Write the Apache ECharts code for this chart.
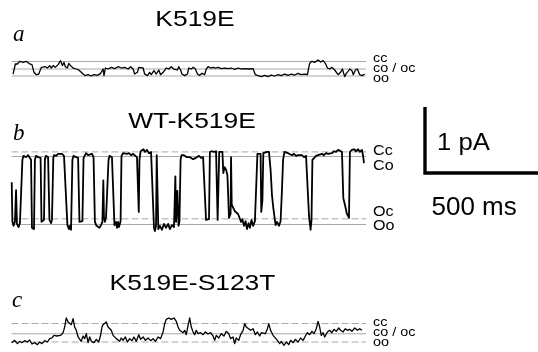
<!DOCTYPE html>
<html>
<head>
<meta charset="utf-8">
<script src="https://cdn.jsdelivr.net/npm/echarts@6/dist/echarts.min.js"></script>
<style>
  html, body { margin: 0; padding: 0; background: #fff; }
  #chart { width: 538px; height: 352px; }
</style>
</head>
<body>
<div id="chart"></div>
<script>
// single-channel traces, time in ms, current in pA (baseline = lowest level)
const traceA = [
  [7,0.030],[17,0.182],[21,0.192],[26,0.182],[36,0.222],[51,0.207],[65,0.222],[80,0.182],[90,0.172],[99,0.056],
  [109,0.020],[120,0.030],[131,0.131],[139,0.106],[149,0.141],[158,0.121],[168,0.157],[175,0.121],[183,0.157],[193,0.131],
  [205,0.172],[216,0.232],[224,0.157],[231,0.207],[237,0.141],[246,0.121],[252,0.192],[260,0.157],[271,0.121],[285,0.106],
  [296,0.091],[304,0.106],[315,0.030],[325,0.005],[337,0.020],[351,0.000],[363,0.020],[378,0.010],[392,0.040],[403,0.106],
  [407,0.005],[413,0.121],[425,0.106],[439,0.131],[454,0.111],[469,0.141],[483,0.121],[498,0.131],[513,0.106],[524,0.141],
  [535,0.106],[542,0.030],[554,0.056],[560,0.131],[568,0.106],[579,0.121],[586,0.030],[598,0.005],[608,0.056],[615,0.020],
  [627,0.081],[637,0.030],[648,0.091],[656,0.020],[667,0.056],[674,0.030],[681,0.121],[692,0.106],[703,0.141],[714,0.106],
  [722,0.131],[730,0.091],[736,0.141],[744,0.091],[750,0.030],[762,0.005],[774,0.030],[780,0.121],[791,0.106],[800,0.131],
  [809,0.106],[818,0.030],[828,0.010],[838,0.040],[850,0.020],[857,0.106],[865,0.141],[876,0.121],[887,0.131],[897,0.121],
  [909,0.131],[923,0.111],[938,0.121],[953,0.111],[967,0.121],[982,0.101],[997,0.121],[1011,0.106],[1029,0.111],[1044,0.106],
  [1063,0.111],[1073,0.020],[1085,0.005],[1099,-0.010],[1114,0.010],[1129,-0.010],[1143,0.015],[1158,0.000],[1173,0.020],[1187,0.005],
  [1202,0.030],[1217,0.010],[1231,0.030],[1246,0.015],[1261,0.040],[1275,0.020],[1290,0.030],[1302,0.020],[1308,0.131],[1312,0.192],
  [1322,0.222],[1334,0.207],[1349,0.242],[1360,0.212],[1371,0.232],[1381,0.192],[1390,0.121],[1400,0.106],[1410,0.131],[1422,0.091],
  [1429,0.081],[1437,0.020],[1448,0.056],[1456,0.106],[1466,-0.010],[1473,0.040],[1481,0.071],[1488,0.106],[1498,0.081],[1504,0.020],
  [1513,0.091],[1522,0.106],[1532,0.020],[1542,0.005],[1554,0.030]
];

const traceB = [
  [1,0.64],[4,0.04],[9,-0.02],[15,0.04],[20,0.52],[24,0.01],[31,-0.04],[37,0.02],[44,-0.01],
  [48,0.98],[53,1.04],[64,1.02],[73,1.05],[81,1.02],[86,0.98],
  [90,-0.05],[95,-0.08],[99,-0.07],
  [103,0.98],[108,1.04],[117,1.02],[123,1.05],[128,1.01],
  [132,0.04],[139,0.01],[143,0.07],
  [147,0.99],[152,1.04],[161,1.02],
  [167,0.07],[174,0.02],[178,0.07],
  [184,1.01],[187,1.05],[196,1.04],[205,1.07],[213,1.04],[222,1.07],[231,1.04],[238,1.02],
  [246,-0.01],[253,-0.07],[257,-0.02],[262,-0.08],
  [268,0.98],[273,1.04],[284,1.02],[293,1.01],
  [299,0.04],[306,0.01],[312,0.05],
  [317,1.01],[321,1.04],[328,1.08],[337,1.05],[345,1.04],[354,1.07],[361,1.02],
  [367,0.04],[374,-0.02],[381,0.01],[387,-0.05],[394,-0.01],
  [400,0.04],[404,0.67],[407,0.10],[411,0.04],[416,0.11],[422,0.08],
  [427,0.98],[431,1.04],[442,1.02],[449,0.99],
  [453,-0.01],[460,0.04],[464,-0.05],[469,0.04],[473,-0.04],[480,0.05],
  [484,1.04],[491,1.08],[499,1.10],[508,1.07],[517,1.08],[526,1.05],[535,1.07],[543,1.04],[552,1.02],[557,1.01],
  [560,0.19],[563,0.98],[568,1.11],[574,1.10],[581,1.14],[587,1.10],[596,1.13],[605,1.08],[614,1.10],[621,1.08],
  [627,-0.05],[631,-0.10],[636,-0.02],[639,1.05],[642,1.04],[646,-0.07],
  [653,-0.02],[662,-0.08],[671,0.01],[680,-0.05],[689,0.01],[697,-0.07],[706,-0.01],[715,-0.04],[721,0.73],[724,0.04],[730,0.51],[735,-0.02],[739,0.04],
  [744,0.98],[748,1.05],[759,1.05],[772,1.02],[785,1.02],[799,0.99],[812,1.01],[825,1.04],[834,1.01],[843,1.02],[851,1.04],
  [856,0.07],[862,0.04],[869,0.08],
  [873,1.10],[882,1.11],[891,1.10],[900,1.11],
  [907,0.07],[911,0.04],
  [914,1.10],[922,1.11],[928,1.10],
  [932,0.78],[937,0.87],[944,0.83],[950,0.75],
  [957,0.10],[964,0.16],[966,1.02],[969,0.30],[975,0.27],[983,0.20],[990,0.22],[997,0.16],[1003,0.19],[1010,0.04],[1016,0.08],
  [1023,-0.02],[1030,0.05],[1036,-0.07],[1043,0.02],[1049,-0.05],[1056,0.07],[1063,-0.02],[1071,0.05],[1077,0.07],
  [1082,1.07],[1089,1.10],[1096,1.07],
  [1099,0.19],[1104,0.37],[1108,1.08],[1115,1.11],[1124,1.10],[1133,1.10],
  [1140,0.83],[1146,0.45],[1153,0.22],[1162,-0.01],[1168,0.04],[1177,-0.02],[1184,0.05],
  [1190,0.52],[1195,0.98],[1201,1.10],[1208,1.11],[1217,1.08],[1225,1.11],[1234,1.05],[1243,1.07],[1252,1.04],[1261,1.05],
  [1269,1.04],[1278,1.05],[1287,1.02],[1296,1.04],[1302,1.02],
  [1309,0.13],[1316,-0.08],[1320,0.07],[1324,0.98],[1331,1.01],[1340,1.04],[1349,1.05],[1357,1.02],[1366,1.07],[1375,1.05],
  [1384,1.08],[1393,1.07],[1401,1.10],[1410,1.08],[1419,1.11],[1428,1.10],[1437,1.13],[1445,1.11],[1454,1.10],
  [1460,0.40],[1467,0.30],[1476,0.16],[1485,0.10],
  [1489,1.10],[1498,1.13],[1507,1.14],[1516,1.11],[1525,1.14],[1533,1.10],[1542,1.13],[1547,1.04],[1551,0.93]
];

const traceC = [
  [0,-0.010],[14,0.025],[26,-0.025],[36,0.010],[46,-0.010],[58,0.020],[70,0],[80,0.030],[90,-0.030],[102,-0.010],
  [114,-0.040],[124,0],[134,-0.025],[146,0.020],[158,0],[168,0.051],[178,0.061],[187,0.101],[197,0.091],[205,0.121],
  [216,0.101],[227,0.141],[234,0.227],[241,0.364],[249,0.303],[256,0.328],[263,0.263],[271,0.354],[278,0.227],[285,0.177],
  [293,0.076],[300,0.101],[307,0.010],[315,0.091],[322,0.051],[329,0.126],[337,-0.010],[344,0.076],[351,0.010],[363,-0.010],
  [373,0.040],[384,0],[392,0.101],[398,0.227],[403,0.263],[410,0.242],[417,0.303],[425,0.227],[432,0.253],[439,0.177],
  [447,0.101],[454,0.126],[461,0.051],[469,0.076],[476,0.010],[483,0.061],[491,0.025],[501,0.076],[510,0],[520,0.051],
  [530,0.020],[539,0.076],[549,0.010],[560,0.111],[568,0.040],[579,0.076],[589,0.025],[601,0.061],[612,0.020],[623,0.051],
  [633,0.010],[645,0.076],[656,0.051],[667,0.152],[674,0.278],[681,0.343],[692,0.364],[703,0.343],[715,0.364],[725,0.313],
  [733,0.227],[740,0.177],[747,0.202],[755,0.141],[762,0.177],[769,0.111],[777,0.253],[784,0.364],[791,0.227],[799,0.152],
  [806,0.111],[813,0.177],[821,0.126],[832,0.141],[843,0.111],[853,0.152],[865,0.121],[876,0.141],[887,0.091],[894,0.025],
  [901,0.101],[912,0.061],[923,0.126],[935,0.091],[945,0.162],[956,0.126],[964,0.051],[975,0.076],[982,-0.025],[989,0.061],
  [1000,0.025],[1008,0.111],[1019,0.177],[1026,0.278],[1033,0.227],[1041,0.253],[1052,0.177],[1063,0.202],[1073,0.111],[1082,0.152],
  [1092,0.091],[1099,0.141],[1107,0.162],[1117,0.126],[1126,0.202],[1132,0.278],[1140,0.177],[1151,0.101],[1158,0.111],[1170,0.025],
  [1180,-0.025],[1187,0.010],[1199,-0.051],[1209,0],[1220,-0.040],[1228,0.025],[1239,-0.010],[1249,0.040],[1261,0],[1272,0.061],
  [1283,0.025],[1293,0.091],[1302,0.141],[1312,0.111],[1322,0.162],[1331,0.126],[1341,0.202],[1349,0.313],[1356,0.227],[1363,0.101],
  [1371,0.141],[1378,0.076],[1390,0.152],[1400,0.177],[1410,0.141],[1419,0.192],[1429,0.162],[1440,0.212],[1448,0.177],[1459,0.152],
  [1469,0.202],[1478,0.177],[1488,0.192],[1498,0.162],[1510,0.212],[1522,0.177],[1532,0.202],[1542,0.177]
];

// conductance levels (pA) and their labels
const levelsA = [0.22, 0.106, 0];
const levelLabelsA = ['cc', 'co / oc', 'oo'];
const levelsB = [1.10, 1.03, 0.086, 0];
const levelLabelsB = ['Cc', 'Co', 'Oc', 'Oo'];
const levelsC = [0.28, 0.125, 0];
const levelLabelsC = ['cc', 'co / oc', 'oo'];
const levelSpan = [0, 1560];

const titles = ['K519E', 'WT-K519E', 'K519E-S123T'];
const panelLetters = ['a', 'b', 'c'];

// scale bar: 1 pA, 500 ms
const scaleBar = [[0, 1], [0, 0], [500, 0]];
const scaleLabels = ['1 pA', '500 ms'];

// layout
const PX_PER_PA = 66;
const PX_PER_MS = 1 / 4.4;
const T_MAX = 1580;
const LEFT = 11.5;
const panels = [
  { top: 48, height: 44, zero: 76, trace: traceA, levels: levelsA, dashed: [false, false, false], width: 1.3 },
  { top: 138, height: 102, zero: 224.5, trace: traceB, levels: levelsB, dashed: [true, false, true, false], width: 1.8 },
  { top: 305, height: 45, zero: 342, trace: traceC, levels: levelsC, dashed: [true, false, true], width: 1.3 }
];

const grids = [];
const xAxes = [];
const yAxes = [];
const series = [];

panels.forEach((p, i) => {
  grids.push({ left: LEFT, top: p.top, width: T_MAX * PX_PER_MS, height: p.height });
  xAxes.push({ type: 'value', gridIndex: i, min: 0, max: T_MAX, show: false });
  yAxes.push({
    type: 'value', gridIndex: i, show: false,
    min: -(p.top + p.height - p.zero) / PX_PER_PA,
    max: (p.zero - p.top) / PX_PER_PA
  });
  p.levels.forEach((lv, k) => {
    series.push({
      type: 'line', xAxisIndex: i, yAxisIndex: i, symbol: 'none', silent: true,
      data: levelSpan.map(t => [t, lv]),
      lineStyle: { color: '#a8a8a8', width: 1, type: p.dashed[k] ? [7, 3] : 'solid' },
      z: 1
    });
  });
  series.push({
    type: 'line', xAxisIndex: i, yAxisIndex: i, symbol: 'none', clip: false,
    data: p.trace,
    lineStyle: { color: '#000', width: p.width, join: 'round' },
    z: 3
  });
});

// scale bar grid
grids.push({ left: 425, top: 107, width: 500 * PX_PER_MS, height: PX_PER_PA });
xAxes.push({ type: 'value', gridIndex: 3, min: 0, max: 500, show: false });
yAxes.push({ type: 'value', gridIndex: 3, min: 0, max: 1, show: false });
series.push({
  type: 'line', xAxisIndex: 3, yAxisIndex: 3, symbol: 'none', clip: false,
  data: scaleBar,
  lineStyle: { color: '#000', width: 3.4, cap: 'butt', join: 'miter' }
});

// text (vertically centred on the given y)
const SANS = '"Liberation Sans", Arial, Helvetica, sans-serif';
const SERIF = '"Liberation Serif", "Times New Roman", serif';
function txt(text, x, y, size, opts) {
  opts = opts || {};
  return {
    type: 'text', x: x, y: y, scaleX: opts.scaleX || 1, silent: true,
    style: {
      text: text,
      font: (opts.italic ? 'italic ' : '') + size + 'px ' + (opts.serif ? SERIF : SANS),
      fill: '#000',
      textAlign: opts.align || 'left',
      align: opts.align || 'left',
      textVerticalAlign: 'middle',
      verticalAlign: 'middle'
    }
  };
}

const titlePos = [[195, 20], [192, 122], [192.5, 284]];
const letterPos = [[13, 35], [13, 134], [12, 301]];
const graphics = [];
titles.forEach((t, i) => graphics.push(txt(t, titlePos[i][0], titlePos[i][1], 22, { align: 'center', scaleX: 1.2 })));
panelLetters.forEach((t, i) => graphics.push(txt(t, letterPos[i][0], letterPos[i][1], 23, { serif: true, italic: true })));

const labelX = 373;
const labelYA = [59, 69, 79];
const labelYB = [151, 166, 212, 226];
const labelYC = [323, 333, 343];
levelLabelsA.forEach((t, k) => graphics.push(txt(t, labelX, labelYA[k], 12, { scaleX: 1.2 })));
levelLabelsB.forEach((t, k) => graphics.push(txt(t, labelX, labelYB[k], 14, { scaleX: 1.15 })));
levelLabelsC.forEach((t, k) => graphics.push(txt(t, labelX, labelYC[k], 12, { scaleX: 1.2 })));

graphics.push(txt(scaleLabels[0], 437, 143, 24, { scaleX: 1.07 }));
graphics.push(txt(scaleLabels[1], 431.5, 208, 26));

const chart = echarts.init(document.getElementById('chart'));
chart.setOption({
  animation: false,
  backgroundColor: '#fff',
  grid: grids,
  xAxis: xAxes,
  yAxis: yAxes,
  series: series,
  graphic: { elements: graphics }
});
</script>
</body>
</html>
